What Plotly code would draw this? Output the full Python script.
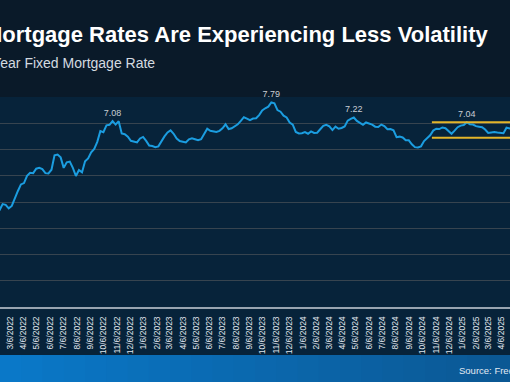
import pandas as pd
import plotly.graph_objects as go

# ---------------- data ----------------
start_date = "2022-01-06"  # first weekly observation (Thursdays)

rates_2022 = [3.22, 3.45, 3.56, 3.55, 3.55, 3.69, 3.92, 3.89, 3.76, 3.85, 4.16, 4.42, 4.67,
              4.72, 5.00, 5.11, 5.10, 5.27, 5.30, 5.25, 5.10, 5.09, 5.23, 5.78, 5.81, 5.70,
              5.30, 5.51, 5.54, 5.30, 4.99, 5.22, 5.13, 5.55, 5.66, 5.89, 6.02, 6.29, 6.70,
              6.66, 6.92, 6.94, 7.08, 6.95, 7.08, 6.61, 6.58, 6.49, 6.33, 6.31, 6.27, 6.42]
rates_2023 = [6.48, 6.33, 6.15, 6.13, 6.09, 6.12, 6.32, 6.50, 6.65, 6.73, 6.60, 6.42, 6.32,
              6.28, 6.27, 6.39, 6.43, 6.39, 6.35, 6.39, 6.57, 6.79, 6.71, 6.69, 6.67, 6.71,
              6.81, 6.96, 6.78, 6.81, 6.90, 6.96, 7.09, 7.23, 7.18, 7.12, 7.18, 7.19, 7.31,
              7.49, 7.57, 7.63, 7.79, 7.76, 7.50, 7.44, 7.29, 7.22, 7.03, 6.95, 6.67, 6.61]
rates_2024 = [6.62, 6.66, 6.60, 6.69, 6.63, 6.64, 6.77, 6.90, 6.94, 6.88, 6.74, 6.87, 6.79,
              6.82, 6.88, 7.10, 7.17, 7.22, 7.09, 7.02, 6.94, 7.03, 6.99, 6.95, 6.87, 6.86,
              6.95, 6.89, 6.77, 6.78, 6.73, 6.47, 6.49, 6.46, 6.35, 6.35, 6.20, 6.09, 6.08,
              6.12, 6.32, 6.44, 6.54, 6.72, 6.79, 6.78, 6.84, 6.81, 6.69, 6.60, 6.72, 6.85]
rates_2025 = [6.91, 6.93, 7.04, 6.96, 6.95, 6.89, 6.87, 6.85, 6.76, 6.63, 6.65, 6.67, 6.65,
              6.64, 6.62, 6.83, 6.81, 6.76, 6.76, 6.81, 6.86, 6.89]

label_dates = ["2022-01-06", "2022-10-27", "2023-10-26", "2024-05-02", "2025-01-16"]
label_values = [3.22, 7.08, 7.79, 7.22, 7.04]
label_positions = ["middle right", "top center", "top center", "top center", "top center"]

band_start = "2024-10-28"
band_end = "2025-07-31"
band_high = 7.04
band_low = 6.45

tick_dates = pd.date_range("2022-01-01", "2025-06-01", freq="MS") + pd.Timedelta(days=5)
tick_labels = [f"{d.month}/6/{d.year}" for d in tick_dates]

title_text = "Mortgage Rates Are Experiencing Less Volatility"
subtitle_text = "30-Year Fixed Mortgage Rate"
source_text = "Source: Freddie Mac"

view_range = ["2022-02-11", "2025-04-25"]

# ---------------- figure ----------------
rates = rates_2022 + rates_2023 + rates_2024 + rates_2025
dates = pd.date_range(start_date, periods=len(rates), freq="7D")

PAPER = "#0a1a29"
PLOT = "#07233a"

fig = go.Figure()
fig.add_trace(go.Scatter(
    x=dates, y=rates, mode="lines",
    line=dict(color="#1b9de0", width=2),
    hoverinfo="skip", showlegend=False,
))
fig.add_trace(go.Scatter(
    x=label_dates, y=label_values, mode="text+markers",
    marker=dict(size=3, color="rgba(0,0,0,0)"),
    text=[f"{v:.2f}" for v in label_values],
    textposition=label_positions,
    textfont=dict(family="Liberation Sans, Arial", size=9, color="#c9ced4"),
    cliponaxis=False, hoverinfo="skip", showlegend=False,
))

shapes = [
    dict(type="rect", xref="paper", yref="paper", x0=0, x1=1, y0=-0.2286, y1=0,
         fillcolor=PLOT, line=dict(width=0), layer="below"),
]
# footer bar with a left-to-right blue gradient
c0 = (10, 120, 200)
c1 = (11, 88, 148)
n_steps = 24
for i in range(n_steps):
    t = i / (n_steps - 1)
    col = tuple(round(a + (b - a) * t) for a, b in zip(c0, c1))
    shapes.append(dict(type="rect", xref="paper", yref="paper",
                       x0=i / n_steps, x1=(i + 1) / n_steps + 0.002, y0=-0.40, y1=-0.2286,
                       fillcolor=f"rgb{col}", line=dict(width=0), layer="below"))
shapes += [
    dict(type="line", xref="x", yref="y", x0=band_start, x1=band_end, y0=band_high, y1=band_high,
         line=dict(color="#e3b52a", width=2)),
    dict(type="line", xref="x", yref="y", x0=band_start, x1=band_end, y0=band_low, y1=band_low,
         line=dict(color="#e3b52a", width=2)),
]

annotations = [
    dict(text=title_text, xref="paper", yref="paper", x=-0.0353, y=1.298,
         xanchor="left", yanchor="middle", showarrow=False,
         font=dict(family="Liberation Sans, Arial", size=22, color="#ffffff", weight="bold")),
    dict(text=subtitle_text, xref="paper", yref="paper", x=-0.058, y=1.163,
         xanchor="left", yanchor="middle", showarrow=False,
         font=dict(family="Liberation Sans, Arial", size=14, color="#d4dae0")),
    dict(text=source_text, xref="paper", yref="paper", x=0.896, y=-0.30,
         xanchor="left", yanchor="middle", showarrow=False,
         font=dict(family="Liberation Sans, Arial", size=9.5, color="#e3eaf2")),
]

fig.update_layout(
    width=510, height=382,
    margin=dict(l=0, r=0, t=97, b=75, pad=0),
    paper_bgcolor=PAPER, plot_bgcolor=PLOT,
    shapes=shapes, annotations=annotations,
    showlegend=False,
    xaxis=dict(
        type="date", range=view_range, automargin=False,
        tickmode="array", tickvals=tick_dates, ticktext=tick_labels,
        tickangle=-90, ticks="outside", ticklen=4, tickcolor=PLOT,
        tickfont=dict(family="Liberation Sans, Arial", size=8.5, color="#e2e8ee"),
        showgrid=False, zeroline=False,
        showline=True, linecolor="#98a4b0", linewidth=2,
    ),
    yaxis=dict(
        range=[0, 8], dtick=1, automargin=False,
        showticklabels=False, ticks="",
        showgrid=True, gridcolor="#37444f", gridwidth=1,
        zeroline=False, showline=False,
    ),
)

fig.write_html(
    "out.html",
    config={"displayModeBar": False},
    post_script="document.body.style.margin='0';document.body.style.overflow='hidden';"
                "document.documentElement.style.overflow='hidden';",
)
